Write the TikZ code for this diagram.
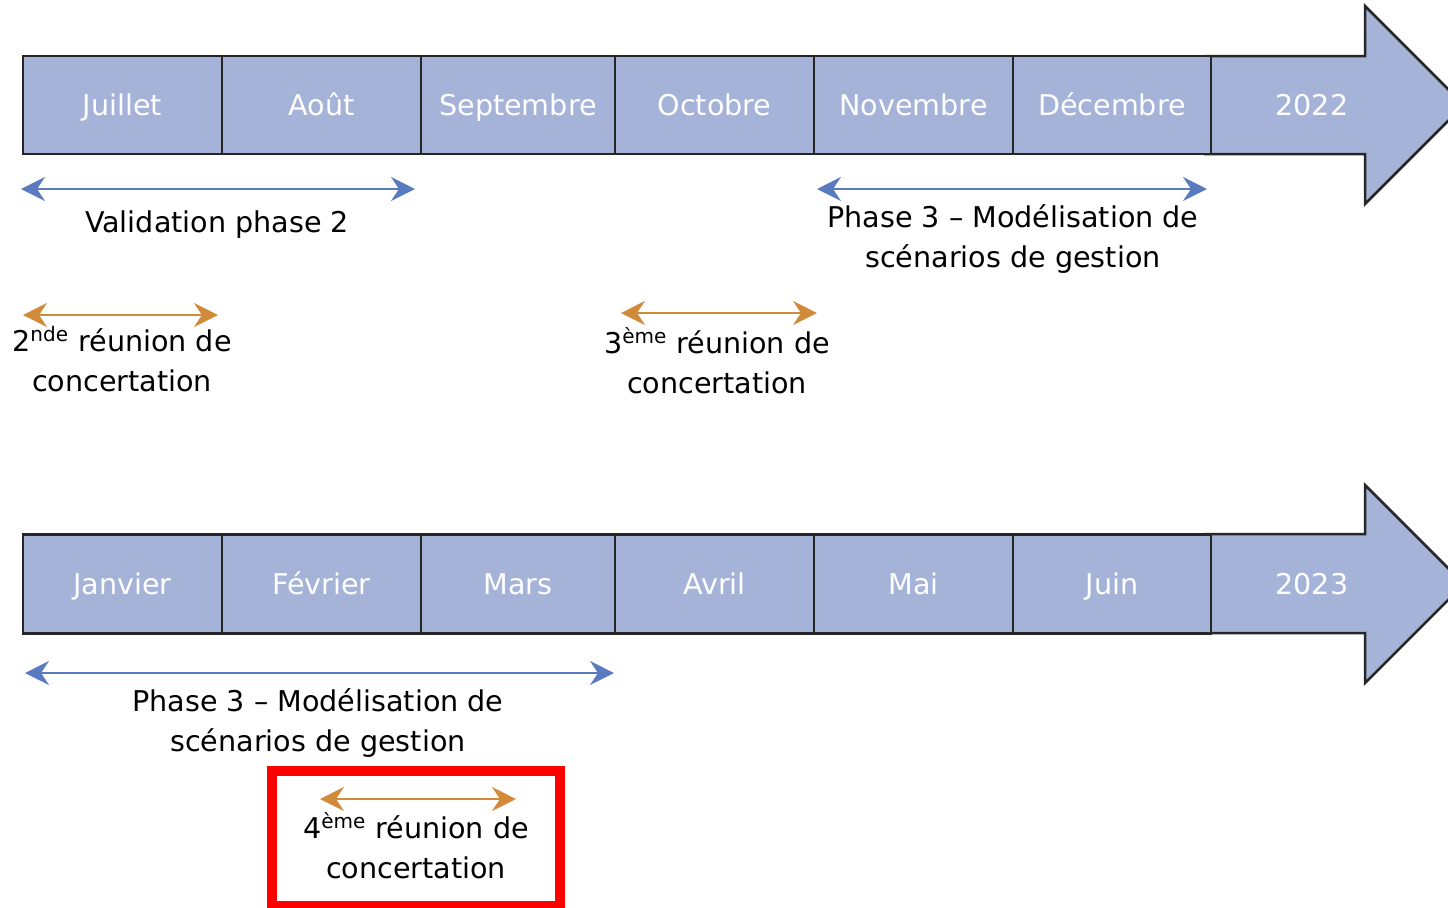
\documentclass[tikz,border=0pt]{standalone}
\usepackage{fontspec}
\setmainfont{DejaVu Sans}
\usepackage{xcolor}
\usepackage{tikz}
\usetikzlibrary{arrows.meta,positioning}
\definecolor{CellFill}{HTML}{A5B3D8}
\definecolor{CellLine}{HTML}{262626}
\definecolor{SpanBlue}{HTML}{5B7BC0}
\definecolor{SpanOrange}{HTML}{D08A3A}
\definecolor{MarkRed}{HTML}{FF0000}
\newcommand{\lblfont}{\fontsize{14.3}{19.7}\selectfont}
\tikzset{
  month/.style={draw=CellLine,line width=1.25pt,fill=CellFill,minimum height=49pt,inner sep=0pt,text=white,text height=1.0em,text depth=0pt,font=\lblfont},
  yearlbl/.style={inner sep=0pt,text=white,text height=1.0em,text depth=0pt,font=\lblfont},
  spanlbl/.style={inner sep=0pt,align=center,font=\lblfont,anchor=base},
  bluespan/.style={SpanBlue,line width=0.8pt,{Stealth[length=12pt,width=12pt,inset=4pt]}-{Stealth[length=12pt,width=12pt,inset=4pt]}},
  orangespan/.style={SpanOrange,line width=0.8pt,{Stealth[length=12pt,width=12pt,inset=4pt]}-{Stealth[length=12pt,width=12pt,inset=4pt]}}
}
\begin{document}
\begin{tikzpicture}[x=0.5pt,y=-0.5pt]
  \useasboundingbox (0,0) rectangle (1448,907);
  % 2022 timeline
  \draw[CellLine,line width=1.25pt,fill=CellFill] (1205,56) -- (1365,56) -- (1365,6) -- (1464,105) -- (1365,204) -- (1365,154) -- (1205,154) -- cycle;
  \node[month,minimum width=99.5pt] (jul) at (122.5,105) {Juillet};
  \node[month,minimum width=99.5pt] (aug) at (321.5,105) {Août};
  \node[month,minimum width=97pt] (sep) at (518,105) {Septembre};
  \node[month,minimum width=99.5pt] (oct) at (714.5,105) {Octobre};
  \node[month,minimum width=99.5pt] (nov) at (913.5,105) {Novembre};
  \node[month,minimum width=99pt] (dec) at (1112,105) {Décembre};
  \node[yearlbl] (y22) at (1312,105) {2022};
  % 2023 timeline
  \draw[CellLine,line width=1.25pt,fill=CellFill] (1205,534) -- (1365,534) -- (1365,485) -- (1464,584) -- (1365,683) -- (1365,633) -- (1205,633) -- cycle;
  \node[month,minimum width=99.5pt,minimum height=49.5pt] (jan) at (122.5,584) {Janvier};
  \node[month,minimum width=99.5pt,minimum height=49.5pt] (feb) at (321.5,584) {Février};
  \node[month,minimum width=97pt,minimum height=49.5pt] (mar) at (518,584) {Mars};
  \node[month,minimum width=99.5pt,minimum height=49.5pt] (apr) at (714.5,584) {Avril};
  \node[month,minimum width=99.5pt,minimum height=49.5pt] (may) at (913.5,584) {Mai};
  \node[month,minimum width=99pt,minimum height=49.5pt] (jun) at (1112,584) {Juin};
  \node[yearlbl] (y23) at (1312,584) {2023};
  % spans
  \coordinate (vp2a) at (21,189);  \coordinate (vp2b) at (415,189);
  \coordinate (ph3a) at (817,189); \coordinate (ph3b) at (1207,189);
  \coordinate (rc2a) at (23,315);  \coordinate (rc2b) at (218,315);
  \coordinate (rc3a) at (621,313); \coordinate (rc3b) at (817,313);
  \coordinate (ph3c) at (25,673);  \coordinate (ph3d) at (614,673);
  \coordinate (rc4a) at (320,799); \coordinate (rc4b) at (516,799);
  \draw[bluespan] (vp2a) -- (vp2b);
  \draw[bluespan] (ph3a) -- (ph3b);
  \draw[orangespan] (rc2a) -- (rc2b);
  \draw[orangespan] (rc3a) -- (rc3b);
  \draw[bluespan] (ph3c) -- (ph3d);
  \node[spanlbl] (vp2) at (217,232) {Validation phase 2};
  \node[spanlbl] (ph3top) at (1013,267) {Phase 3 -- Modélisation de\\scénarios de gestion};
  \node[spanlbl] (rc2) at (122,391) {2\textsuperscript{nde} réunion de\\concertation};
  \node[spanlbl] (rc3) at (717,393) {3\textsuperscript{ème} réunion de\\concertation};
  \node[spanlbl] (ph3bot) at (318,751) {Phase 3 -- Modélisation de\\scénarios de gestion};
  % highlighted meeting
  \node[draw=MarkRed,line width=5pt,minimum width=144pt,minimum height=67.5pt,inner sep=0pt] (mark4) at (416,838.5) {};
  \draw[orangespan] (rc4a) -- (rc4b);
  \node[spanlbl] (rc4) at (416,878) {4\textsuperscript{ème} réunion de\\concertation};
\end{tikzpicture}
\end{document}
